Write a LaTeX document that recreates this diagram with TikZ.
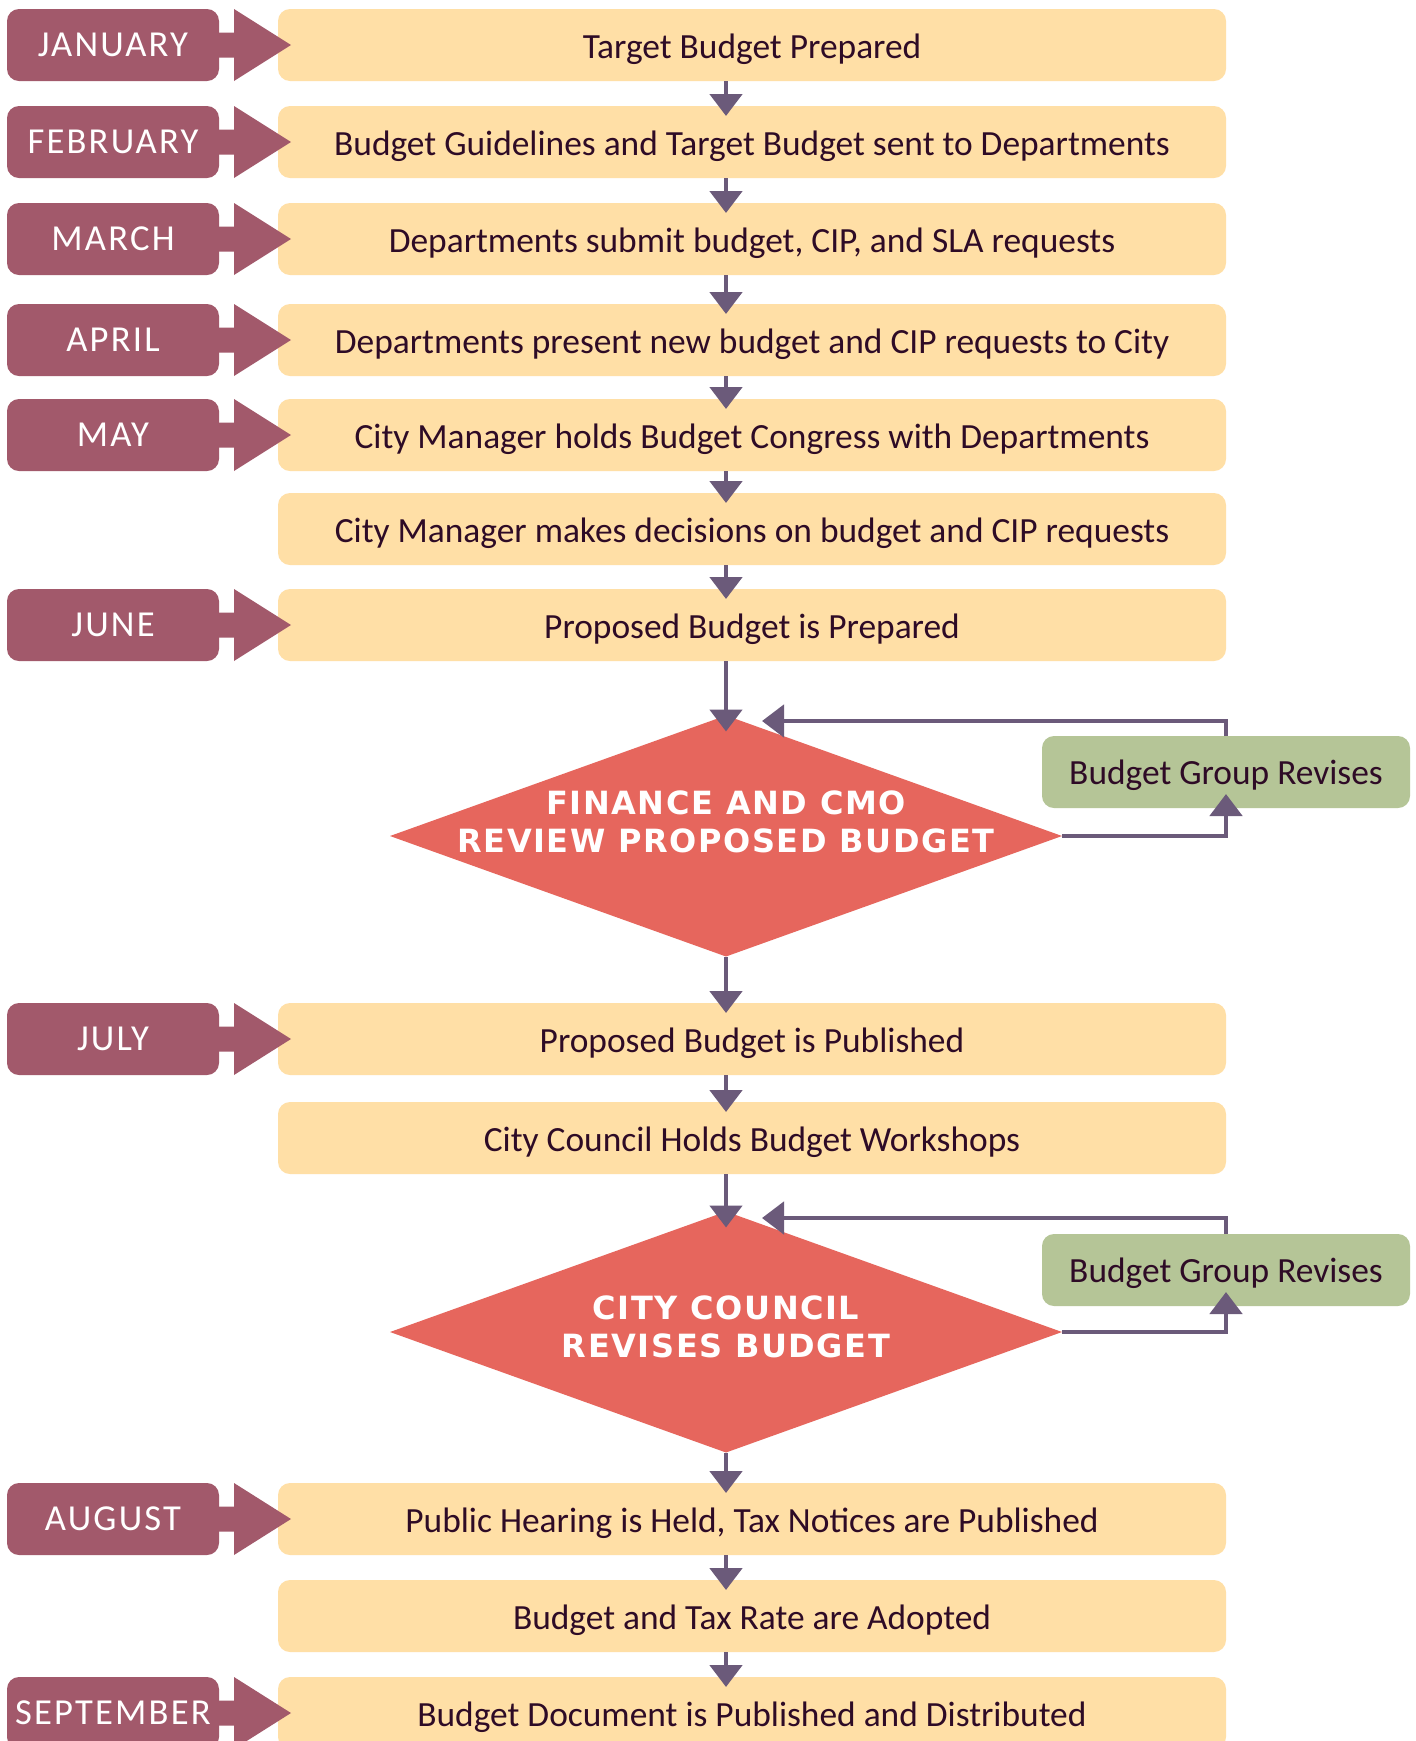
\documentclass[tikz,border=0pt]{standalone}
\usepackage{fontspec}
\setmainfont{Carlito}
\newfontfamily\monthfont[LetterSpace=6]{Carlito}
\newfontfamily\diafont[LetterSpace=5]{DejaVu Sans Bold}
\usetikzlibrary{shapes.geometric,arrows.meta,calc}

\definecolor{tagmauve}{HTML}{A2596B}
\definecolor{boxyellow}{HTML}{FFDFA6}
\definecolor{revgreen}{HTML}{B5C597}
\definecolor{decisionred}{HTML}{E6665D}
\definecolor{flowpurple}{HTML}{6B5A7A}
\definecolor{inkplum}{HTML}{2E0B26}

\tikzset{
  stepbox/.style={fill=boxyellow, rounded corners=6pt, minimum width=474pt,
    minimum height=36pt, inner sep=0pt, outer sep=0pt, text=inkplum,
    text height=13pt, text depth=0pt,
    font=\fontsize{17.7}{20}\selectfont},
  revbox/.style={fill=revgreen, rounded corners=6pt, minimum width=184pt,
    minimum height=36pt, inner sep=0pt, outer sep=0pt, text=inkplum,
    text height=12pt, text depth=0pt,
    font=\fontsize{17.7}{20}\selectfont},
  monthtag/.style={fill=tagmauve, rounded corners=6pt, minimum width=106pt,
    minimum height=36pt, inner sep=0pt, outer sep=0pt, text=white,
    font=\monthfont\fontsize{18.3}{20}\selectfont},
  decision/.style={diamond, fill=decisionred, minimum width=336pt,
    minimum height=120.5pt, inner sep=0pt, outer sep=0pt},
  decisiontext/.style={text=white, align=center, inner sep=0pt,
    font=\diafont\fontsize{16}{19}\selectfont},
  flow/.style={draw=flowpurple, line width=2.4pt,
    -{Triangle[width=16pt,length=11pt]}},
}

\begin{document}
\begin{tikzpicture}[x=0.5pt,y=-0.5pt]
\useasboundingbox (0,0) rectangle (1416,1741);
\clip (0,0) rectangle (1416,1741);
\fill[white] (0,0) rectangle (1416,1741);

% process steps
\node[stepbox] (s1)  at (752,45)   {Target Budget Prepared};
\node[stepbox] (s2)  at (752,142)  {Budget Guidelines and Target Budget sent to Departments};
\node[stepbox] (s3)  at (752,239)  {Departments submit budget, CIP, and SLA requests};
\node[stepbox] (s4)  at (752,340)  {Departments present new budget and CIP requests to City};
\node[stepbox] (s5)  at (752,435)  {City Manager holds Budget Congress with Departments};
\node[stepbox] (s6)  at (752,529)  {City Manager makes decisions on budget and CIP requests};
\node[stepbox] (s7)  at (752,625)  {Proposed Budget is Prepared};
\node[stepbox] (s8)  at (752,1039) {Proposed Budget is Published};
\node[stepbox] (s9)  at (752,1138) {City Council Holds Budget Workshops};
\node[stepbox] (s10) at (752,1519) {Public Hearing is Held, Tax Notices are Published};
\node[stepbox] (s11) at (752,1616) {Budget and Tax Rate are Adopted};
\node[stepbox] (s12) at (752,1713) {Budget Document is Published and Distributed};

% review decisions
\node[decision] (d1) at (726,836) {};
\node[decisiontext] (d1t) at (726,822) {FINANCE AND CMO\\REVIEW PROPOSED BUDGET};
\node[decision] (d2) at (726,1332) {};
\node[decisiontext] (d2t) at (726,1327) {CITY COUNCIL\\REVISES BUDGET};

% revision boxes
\node[revbox] (rev1) at (1226,772)  {Budget Group Revises};
\node[revbox] (rev2) at (1226,1270) {Budget Group Revises};
\coordinate (back1) at (762,721);
\coordinate (back2) at (762,1218);

% month tags with pointers
\foreach \r/\y/\lab in {1/45/JANUARY, 2/142/FEBRUARY, 3/239/MARCH, 4/340/APRIL,
    5/435/MAY, 7/625/JUNE, 8/1039/JULY, 10/1519/AUGUST, 12/1713/SEPTEMBER} {
  \node[monthtag] (m\r) at (113,\y) {\lab};
  \fill[tagmauve] (215,\y-12.5) -- (234,\y-12.5) -- (234,\y-36) -- (291,\y)
    -- (234,\y+36) -- (234,\y+12.5) -- (215,\y+12.5) -- cycle;
}

% flow connectors
\foreach \a/\b in {s1/s2, s2/s3, s3/s4, s4/s5, s5/s6, s6/s7, s8/s9, s10/s11, s11/s12} {
  \draw[flow, shorten >=-5pt] (\a.south -| d1.north) -- (\b.north -| d1.north);
}
\draw[flow, shorten >=-8pt] (s7.south -| d1.north) -- (d1.north);
\draw[flow, shorten >=-5pt] (d1.south) -- (s8.north -| d1.south);
\draw[flow, shorten >=-8pt] (s9.south -| d2.north) -- (d2.north);
\draw[flow, shorten >=-5pt] (d2.south) -- (s10.north -| d2.south);

% revision loops
\draw[flow, shorten >=-7pt] (d1.east) -| (rev1.south);
\draw[flow] (rev1.north) |- (back1);
\draw[flow, shorten >=-7pt] (d2.east) -| (rev2.south);
\draw[flow] (rev2.north) |- (back2);
\end{tikzpicture}
\end{document}
